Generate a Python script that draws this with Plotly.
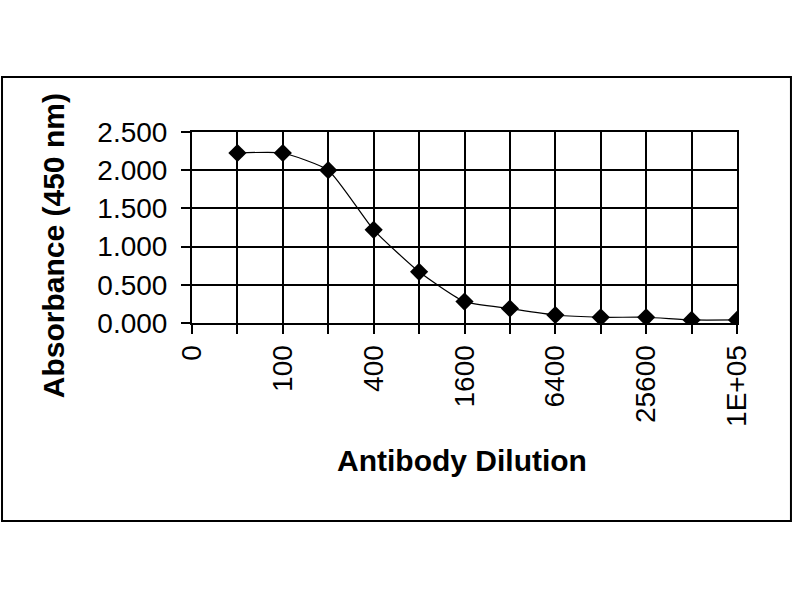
import math

import plotly.graph_objects as go

# antibody dilution series (1:x) and measured absorbance at 450 nm
dilution = [50, 100, 200, 400, 800, 1600, 3200, 6400, 12800, 25600, 51200, 102400]
absorbance = [2.225, 2.225, 2.000, 1.220, 0.670, 0.280, 0.190, 0.105, 0.075, 0.075, 0.040, 0.040]

# gridline positions along the dilution axis and the labels Excel printed on them
grid_x = [25, 50, 100, 200, 400, 800, 1600, 3200, 6400, 12800, 25600, 51200, 102400]
grid_labels = ["0", "", "100", "", "400", "", "1600", "", "6400", "", "25600", "", "1E+05"]
y_ticks = [0, 0.5, 1.0, 1.5, 2.0, 2.5]
y_labels = ["0.000", "0.500", "1.000", "1.500", "2.000", "2.500"]

fig = go.Figure()
fig.add_trace(go.Scatter(
    x=dilution, y=absorbance,
    mode="lines+markers",
    line=dict(color="black", width=1.2, shape="spline", smoothing=0.5),
    marker=dict(symbol="diamond", size=14, color="black"),
    showlegend=False,
))

axis_font = dict(family="Liberation Sans, Arial, sans-serif", size=28, color="black")

fig.update_xaxes(
    type="log", range=[math.log10(25), math.log10(102400)],
    tickmode="array", tickvals=grid_x, ticktext=grid_labels, tickangle=-90,
    ticks="outside", ticklen=9, tickwidth=2, tickcolor="black",
    showgrid=True, gridcolor="black", gridwidth=2,
    showline=True, linecolor="black", linewidth=2, mirror=True,
    tickfont=axis_font, zeroline=False,
)
fig.update_yaxes(
    range=[0, 2.5],
    tickmode="array", tickvals=y_ticks, ticktext=y_labels,
    ticks="outside", ticklen=9, tickwidth=2, tickcolor="black",
    ticklabelstandoff=8,
    showgrid=True, gridcolor="black", gridwidth=2,
    showline=True, linecolor="black", linewidth=2, mirror=True,
    tickfont=axis_font, zeroline=False,
)

title_font = dict(family="Liberation Sans, Arial, sans-serif", size=30, color="black")
fig.add_annotation(text="<b>Antibody Dilution</b>", xref="paper", yref="paper",
                   x=0.495, y=-0.72, xanchor="center", yanchor="middle",
                   showarrow=False, font=title_font)
fig.add_annotation(text="<b>Absorbance (450 nm)</b>", xref="paper", yref="paper",
                   x=-0.254, y=0.405, xanchor="center", yanchor="middle",
                   textangle=-90, showarrow=False, font=title_font)

# outer chart border
fig.add_shape(type="rect", xref="paper", yref="paper",
              x0=-0.3486, x1=1.099, y0=-1.037, y1=1.288,
              line=dict(color="black", width=2))

fig.update_layout(
    width=800, height=600,
    margin=dict(l=192, r=63, t=132, b=277),
    paper_bgcolor="white", plot_bgcolor="white",
)

# drop the browser's default body margin so the figure sits at the window origin
fig.write_html("out.html", config={"displayModeBar": False},
               post_script="document.body.style.margin = '0';")
